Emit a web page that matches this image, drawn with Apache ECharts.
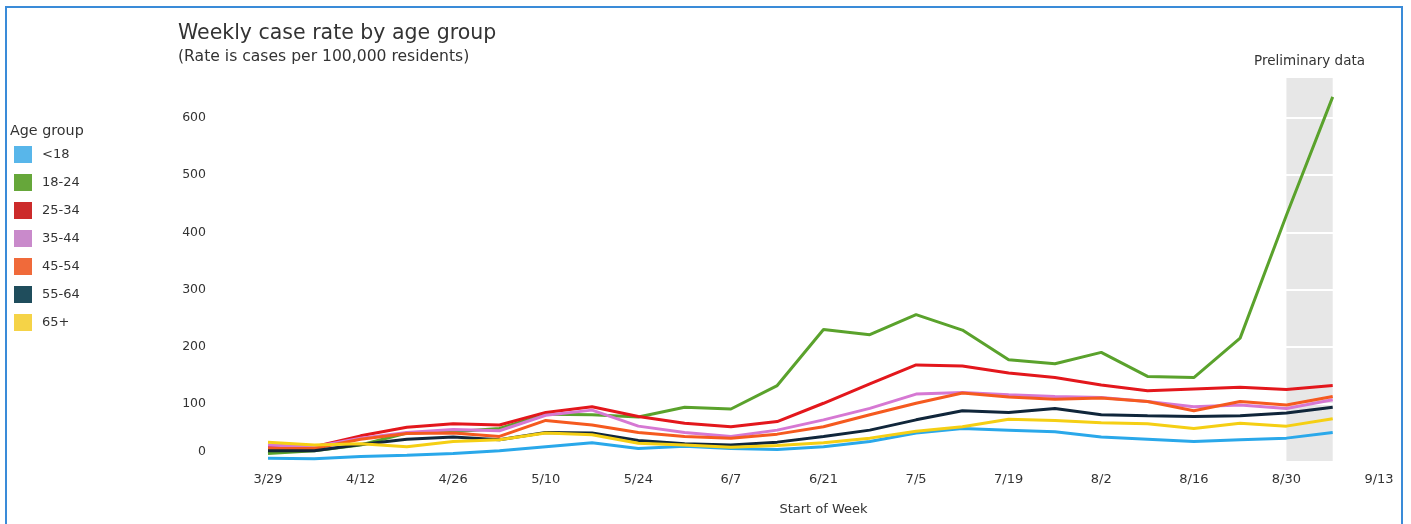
<!DOCTYPE html>
<html>
<head>
<meta charset="utf-8">
<script src="https://cdn.jsdelivr.net/npm/echarts@6/dist/echarts.min.js"></script>
<style>
html,body{margin:0;padding:0;background:#fff;}
#chart{width:1411px;height:524px;}
</style>
</head>
<body>
<div id="chart"></div>
<script>
// Weeks (start of week); last category 9/13 has no data
const weeks = ['3/29','4/5','4/12','4/19','4/26','5/3','5/10','5/17','5/24','5/31','6/7','6/14','6/21','6/28','7/5','7/12','7/19','7/26','8/2','8/9','8/16','8/23','8/30','9/6','9/13'];
const groups = ['<18','18-24','25-34','35-44','45-54','55-64','65+'];
const under18 = [5,4,8,10,13,18,25,32,22,26,22,20,25,34,49,57,54,51,42,38,34,37,40,50];
const age18_24 = [13,18,28,49,51,57,82,81,77,94,91,132,230,221,256,229,177,170,190,148,146,215,430,637];
const age25_34 = [25,25,44,59,65,63,85,95,78,66,60,69,101,135,168,166,154,146,133,123,126,129,125,132];
const age35_44 = [28,25,40,50,55,53,80,89,61,50,43,54,72,92,117,120,116,113,111,104,95,98,92,107];
const age45_54 = [22,22,38,48,49,43,71,63,50,43,40,47,60,81,101,119,112,108,110,104,88,104,98,113];
const age55_64 = [18,18,29,38,42,37,50,49,36,30,28,33,43,54,72,88,85,92,81,79,78,79,84,94];
const age65plus = [33,28,30,25,34,37,49,46,31,28,24,27,32,40,52,60,73,71,67,65,57,66,61,74];
const yTicks = [100,200,300,400,500,600];
const prelimStart = '8/30';
const prelimEnd = '9/6';

const seriesValues = [under18, age18_24, age25_34, age35_44, age45_54, age55_64, age65plus];
const swatchColors = ['#58b6ea','#66a73a','#cc2b2b','#c98acb','#f06a3a','#1f4d5c','#f5d347'];
const lineColors = ['#2aa8ea','#5aa22c','#e3171c','#d678d3','#f55a1f','#10263a','#f5cf14'];
const font = 'DejaVu Sans';

const chart = echarts.init(document.getElementById('chart'));

const series = [{
  name: '_band',
  type: 'line',
  z: 0,
  data: weeks.map(() => null),
  silent: true,
  markArea: {
    silent: true,
    z: 0,
    itemStyle: { color: '#e7e7e7' },
    label: {
      show: true, position: 'top', distance: 10,
      color: '#333', fontFamily: font, fontSize: 13.5,
      formatter: 'Preliminary data'
    },
    data: [[{ xAxis: prelimStart }, { xAxis: prelimEnd }]]
  },
  markLine: {
    silent: true,
    z: 1,
    symbol: 'none',
    label: { show: false },
    lineStyle: { color: '#ffffff', width: 2, type: 'solid' },
    data: yTicks.map(v => ({ yAxis: v }))
  }
}];
groups.forEach((g, i) => {
  series.push({
    name: g,
    type: 'line',
    z: 2,
    data: seriesValues[i],
    showSymbol: false,
    symbol: 'none',
    itemStyle: { color: swatchColors[i] },
    lineStyle: { color: lineColors[i], width: 3 },
    emphasis: { disabled: true }
  });
});

chart.setOption({
  backgroundColor: '#fff',
  animation: false,
  title: [{
    text: 'Weekly case rate by age group',
    left: 173, top: 18,
    textStyle: { fontFamily: font, fontSize: 20.5, fontWeight: 'normal', color: '#333' }
  }, {
    text: '(Rate is cases per 100,000 residents)',
    left: 173, top: 44,
    textStyle: { fontFamily: font, fontSize: 15.6, fontWeight: 'normal', color: '#333' }
  }, {
    text: 'Age group',
    left: 5, top: 119,
    textStyle: { fontFamily: font, fontSize: 14.3, fontWeight: 'normal', color: '#333' }
  }],
  legend: {
    orient: 'vertical',
    left: 9, top: 141,
    icon: 'rect',
    itemWidth: 18, itemHeight: 17, itemGap: 11,
    data: groups,
    textStyle: { fontFamily: font, fontSize: 13, color: '#333', padding: [0,0,0,5] },
    selectedMode: false
  },
  grid: { left: 268, right: 32, top: 78, bottom: 63, containLabel: false },
  xAxis: {
    type: 'category',
    data: weeks,
    boundaryGap: false,
    name: 'Start of Week',
    nameLocation: 'middle',
    nameGap: 42,
    nameTextStyle: { fontFamily: font, fontSize: 13, color: '#333' },
    axisLine: { show: false },
    axisTick: { show: false },
    axisLabel: { interval: 1, margin: 12, fontFamily: font, fontSize: 13, color: '#333' },
    splitLine: { show: false }
  },
  yAxis: {
    type: 'value',
    min: 0, max: 670, interval: 100,
    axisLine: { show: false },
    axisTick: { show: false },
    axisLabel: {
      showMaxLabel: false,
      margin: 62,
      fontFamily: font, fontSize: 12.5, color: '#333',
      formatter: v => v === 0 ? '{z|0}' : String(v),
      rich: { z: { fontFamily: font, fontSize: 12.5, color: '#333', padding: [0,0,18,0] } }
    },
    splitLine: { show: false }
  },
  graphic: [{
    type: 'rect',
    shape: { x: 6, y: 7, width: 1396, height: 540 },
    style: { fill: 'none', stroke: '#3a8bd8', lineWidth: 2 },
    silent: true, z: 10
  }],
  series: series
});
</script>
</body>
</html>
